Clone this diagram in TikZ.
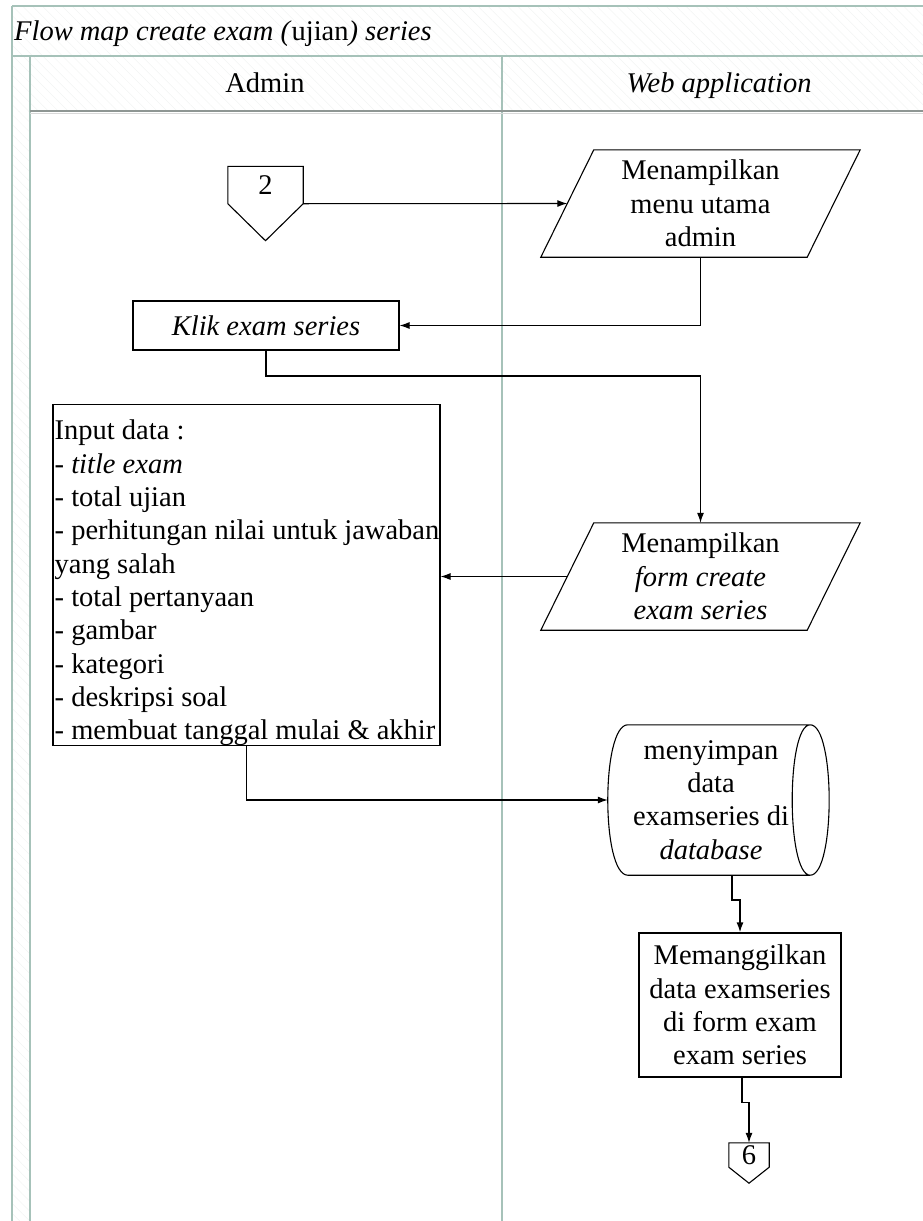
\documentclass[tikz,border=0pt]{standalone}
\usepackage{fontspec}
\setmainfont{Liberation Serif}
\usetikzlibrary{arrows.meta,patterns.meta}

\definecolor{lanegreen}{HTML}{A6C2B9}
\definecolor{hatchgray}{HTML}{F2F4F3}
\definecolor{headrule}{HTML}{8E9693}

\begin{document}
\begin{tikzpicture}[x=1pt,y=-1pt,
  every node/.style={font=\fontsize{28.5}{33.3}\selectfont, inner sep=0pt},
  box/.style={draw, line width=1.1pt},
  flow/.style={line width=1.1pt, -{Latex[length=10pt,width=7pt]}},
  lane/.style={draw=lanegreen, line width=1.3pt},
  hatched/.style={pattern={Lines[angle=-45,distance=7pt,line width=0.5pt]}, pattern color=hatchgray},
  slot/.style={minimum width=266pt, minimum height=107pt, align=center}
]
\useasboundingbox (0,0) rectangle (923,1221);

% swimlane frame
\fill[hatched] (12,6) rectangle (923,111);
\fill[hatched] (12,111) rectangle (30,1221);
\draw[lane] (12,6) -- (923,6);
\draw[lane] (12,6) -- (12,1221);
\draw[lane] (12,56) -- (923,56);
\draw[lane] (30,56) -- (30,1221);
\draw[lane] (502,56) -- (502,1221);
\draw[headrule, line width=1.6pt] (30,111) -- (923,111);
\draw[gray!30, line width=1pt] (30,113.5) -- (923,113.5);

\node[anchor=base west, font=\fontsize{28.5}{33.3}\selectfont\itshape] (title) at (14,40)
  {Flow map create exam (\textup{ujian}) series};
\node[anchor=base] (admin) at (265,92) {Admin};
\node[anchor=base] (web) at (719,92) {\textit{Web application}};

% off-page connector 2
\node[minimum width=75pt, minimum height=37pt] (c2) at (265.5,185) {2};
\draw[box] (c2.north west) -- (c2.north east) -- (c2.south east)
  -- ([yshift=-37pt]c2.south) -- (c2.south west) -- cycle;

% display: main menu
\node[slot] (p1) at (700.5,203.5) {Menampilkan\\menu utama\\admin};
\draw[box] ([xshift=-26.5pt]p1.south west) -- ([xshift=26.5pt]p1.north west)
  -- ([xshift=26.5pt]p1.north east) -- ([xshift=-26.5pt]p1.south east) -- cycle;

% manual step
\node[box, minimum width=266pt, minimum height=49pt] (klik) at (266,325.5) {\textit{Klik exam series}};

% display: create form
\node[slot] (p2) at (700.5,576.5) {Menampilkan\\\textit{form create}\\\textit{exam series}};
\draw[box] ([xshift=-26.5pt]p2.south west) -- ([xshift=26.5pt]p2.north west)
  -- ([xshift=26.5pt]p2.north east) -- ([xshift=-26.5pt]p2.south east) -- cycle;

% input data box
\node[box, minimum width=387pt, minimum height=341pt] (input) at (246.5,575) {};
\node[anchor=north west, align=left] (inputtxt) at ([xshift=2pt,yshift=-16pt]input.north west)
  {Input data :\\
   - \textit{title exam}\\
   - total ujian\\
   - perhitungan nilai untuk jawaban\\
   yang salah\\
   - total pertanyaan\\
   - gambar\\
   - kategori\\
   - deskripsi soal\\
   - membuat tanggal mulai \& akhir};

% stored data
\node[minimum width=182pt, minimum height=150pt] (db) at (719,800) {};
\draw[box] (db.north west) -- (db.north east)
  .. controls +(-24,0) and +(-24,0) .. (db.south east)
  -- (db.south west)
  .. controls +(-26.7,0) and +(-26.7,0) .. (db.north west) -- cycle;
\draw[box] (db.north east) .. controls +(25.3,0) and +(25.3,0) .. (db.south east);
\node[align=center] (dbtxt) at (711,800) {menyimpan\\data\\examseries di\\\textit{database}};
\coordinate (dbin) at ([xshift=-20pt]db.west);

% process
\node[box, minimum width=202pt, minimum height=144pt, align=center] (mem) at (740,1005)
  {Memanggilkan\\data examseries\\di form exam\\exam series};

% off-page connector 6
\node[minimum width=40pt, minimum height=24pt] (c6) at (749,1155) {6};
\draw[box] (c6.north west) -- (c6.north east) -- (c6.south east)
  -- ([yshift=-16pt]c6.south) -- (c6.south west) -- cycle;

% connectors
\coordinate (bend) at (0,376);
\draw[flow] (c2.south east) -- (p1.west);
\draw[flow] (p1.south) |- (klik.east);
\draw[flow] (klik.south) -- (klik.south |- bend) -| (p2.north);
\draw[flow] (p2.west) -- (p2.west -| input.east);
\draw[flow] (input.south) |- (dbin);
\draw[flow, line width=1.6pt] ([xshift=13pt]db.south) -- ++(0,25) -| (mem.north);
\draw[flow] ([xshift=2pt]mem.south) -- ++(0,25) -| (c6.north);
\end{tikzpicture}
\end{document}
